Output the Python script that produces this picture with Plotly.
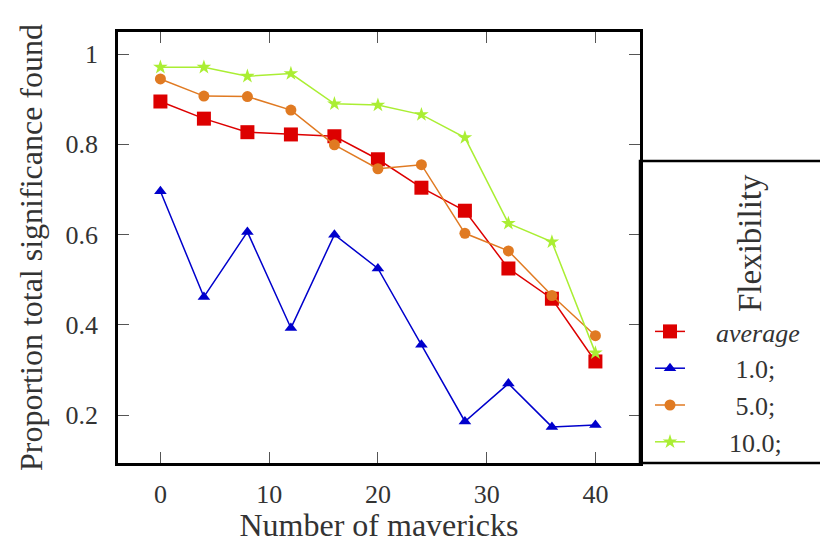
import plotly.graph_objects as go

mavericks = [0, 4, 8, 12, 16, 20, 24, 28, 32, 36, 40]
avg_vals = [0.895, 0.857, 0.827, 0.822, 0.818, 0.767, 0.704, 0.653, 0.525, 0.458, 0.319]
flex1_vals = [0.696, 0.462, 0.606, 0.393, 0.600, 0.525, 0.356, 0.186, 0.270, 0.174, 0.178]
flex5_vals = [0.945, 0.907, 0.906, 0.876, 0.799, 0.746, 0.755, 0.603, 0.564, 0.465, 0.376]
flex10_vals = [0.971, 0.971, 0.951, 0.957, 0.890, 0.887, 0.866, 0.815, 0.625, 0.584, 0.338]

NB = "\u00a0"
series_names = [NB * 4 + "<i>average</i>", NB * 7 + "1.0;", NB * 7 + "5.0;", NB * 6 + "10.0;"]
colors = ["#dd0000", "#0000cc", "#e07a22", "#aaee33"]
symbols = ["square", "triangle-up", "circle", "star"]
sizes = [14, 11, 11, 11]
values = [avg_vals, flex1_vals, flex5_vals, flex10_vals]

FONT = "Liberation Serif"
TXT = "#333333"
fig = go.Figure()
for name, col, sym, sz, vals in zip(series_names, colors, symbols, sizes, values):
    fig.add_trace(go.Scatter(
        x=mavericks, y=vals, mode="lines+markers", name=name,
        line=dict(color=col, width=1.5),
        marker=dict(symbol=sym, size=sz, color=col, line=dict(width=0)),
    ))

W, H = 820, 543
ml, mr, mt, mb = 118, 180, 32, 80
pw = W - ml - mr
ph = H - mt - mb

def xpaper(px):
    return (px - ml) / pw

def ypaper(py):
    return (H - mb - py) / ph

fig.update_layout(
    width=W, height=H,
    margin=dict(l=ml, r=mr, t=mt, b=mb, autoexpand=False),
    paper_bgcolor="white", plot_bgcolor="white",
    font=dict(family=FONT, color=TXT, size=26),
    xaxis=dict(
        range=[-3.9, 44.1], tickvals=[0, 10, 20, 30, 40],
        ticks="inside", ticklen=11, tickwidth=1, tickcolor="#555555",
        mirror="ticks", showline=True, linecolor="black", linewidth=2.5,
        showgrid=False, zeroline=False, ticklabelstandoff=6, automargin=False,
        title=dict(text="Number of mavericks", font=dict(size=32, family=FONT, color=TXT), standoff=15),
        tickfont=dict(size=26, family=FONT, color=TXT),
    ),
    yaxis=dict(
        range=[0.094, 1.049], tickvals=[0.2, 0.4, 0.6, 0.8, 1.0],
        ticktext=["0.2", "0.4", "0.6", "0.8", "1"],
        ticks="inside", ticklen=11, tickwidth=1, tickcolor="#555555",
        mirror="ticks", showline=True, linecolor="black", linewidth=2.5,
        showgrid=False, zeroline=False, ticklabelstandoff=12, automargin=False,
        title=dict(text="Proportion total significance found", font=dict(size=32, family=FONT, color=TXT), standoff=14),
        tickfont=dict(size=26, family=FONT, color=TXT),
    ),
    legend=dict(
        x=xpaper(650), xanchor="left", y=ypaper(308), yanchor="top",
        bgcolor="rgba(0,0,0,0)", borderwidth=0,
        font=dict(size=26, family=FONT, color=TXT),
        tracegroupgap=0,
    ),
    showlegend=True,
)

fig.add_shape(type="rect", xref="paper", yref="paper",
              x0=1.0, x1=1.6, y0=0, y1=ypaper(161),
              line=dict(color="black", width=2.5), fillcolor="rgba(0,0,0,0)", layer="above")
fig.add_annotation(text="Flexibility", xref="paper", yref="paper",
                   x=xpaper(750), y=ypaper(243), textangle=-90,
                   showarrow=False, font=dict(size=33, family=FONT, color=TXT),
                   xanchor="center", yanchor="middle")

fig.write_html("out.html")
